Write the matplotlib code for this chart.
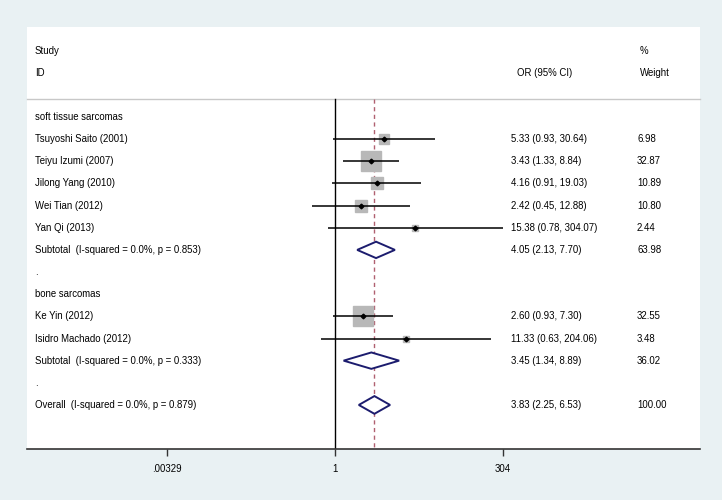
import matplotlib
matplotlib.use("Agg")
import matplotlib.pyplot as plt
import numpy as np
from matplotlib.patches import Polygon
from matplotlib.transforms import blended_transform_factory

plt.rcParams['font.family'] = ['Liberation Sans', 'DejaVu Sans']

# ---- data ----
studies_soft = ["Tsuyoshi Saito (2001)", "Teiyu Izumi (2007)", "Jilong Yang (2010)",
                "Wei Tian (2012)", "Yan Qi (2013)"]
or_soft = [5.33, 3.43, 4.16, 2.42, 15.38]
lo_soft = [0.93, 1.33, 0.91, 0.45, 0.78]
hi_soft = [30.64, 8.84, 19.03, 12.88, 304.07]
w_soft = [6.98, 32.87, 10.89, 10.80, 2.44]

studies_bone = ["Ke Yin (2012)", "Isidro Machado (2012)"]
or_bone = [2.60, 11.33]
lo_bone = [0.93, 0.63]
hi_bone = [7.30, 204.06]
w_bone = [32.55, 3.48]

sub_labels = ["Subtotal  (I-squared = 0.0%, p = 0.853)",
              "Subtotal  (I-squared = 0.0%, p = 0.333)"]
sub_or = [4.05, 3.45]
sub_lo = [2.13, 1.34]
sub_hi = [7.70, 8.89]
sub_w = [63.98, 36.02]

overall_label = "Overall  (I-squared = 0.0%, p = 0.879)"
overall_or = 3.83
overall_lo = 2.25
overall_hi = 6.53
overall_w = 100.00

group_labels = ["soft tissue sarcomas", "bone sarcomas"]
tick_vals = [0.00329, 1, 304]
tick_labels = [".00329", "1", "304"]

# ---- figure ----
W, H = 722, 500
fig = plt.figure(figsize=(W / 100, H / 100), dpi=100, facecolor="#e9f1f3")
L, R, T, B = 27, 700, 27, 449
ax = fig.add_axes([L / W, 1 - B / H, (R - L) / W, (B - T) / H])
ax.set_facecolor("white")
ax.set_xscale("log")
px_per_ln = 29.35
x0 = 335
ax.set_xlim(np.exp((L - x0) / px_per_ln), np.exp((R - x0) / px_per_ln))
row0, dy = 117, 22.15
ax.set_ylim((B - row0) / dy, (T - row0) / dy)

for s in ["top", "right", "left"]:
    ax.spines[s].set_visible(False)
ax.spines["bottom"].set_color("#333333")
ax.spines["bottom"].set_linewidth(1.2)
ax.set_yticks([])
ax.set_xticks(tick_vals)
ax.set_xticklabels(tick_labels)
ax.minorticks_off()
ax.tick_params(axis="x", length=5, width=1, color="#333333", labelsize=6.9, pad=6)

fs = 6.9
tr = blended_transform_factory(ax.transAxes, ax.transData)
def fx(px):
    return (px - L) / (R - L)

x_lab, x_or, x_w, x_orh = fx(35), fx(511), fx(637), fx(517)

# header
ax.text(x_lab, -3, "Study", transform=tr, fontsize=fs, va="center")
ax.text(x_lab, -2, "ID", transform=tr, fontsize=fs, va="center")
ax.text(x_orh, -2, "OR (95% CI)", transform=tr, fontsize=fs, va="center")
ax.text(fx(640), -3, "%", transform=tr, fontsize=fs, va="center")
ax.text(fx(640), -2, "Weight", transform=tr, fontsize=fs, va="center")
hdr_y = -0.82
ax.plot([0, 1], [hdr_y, hdr_y], transform=tr, color="#c8c8c8", lw=1.0, clip_on=False)

ymax_line = (B - row0) / dy
ax.plot([1, 1], [hdr_y, ymax_line], color="black", lw=1.0, zorder=2)
ax.plot([overall_or, overall_or], [hdr_y, ymax_line], color="#b06070", lw=1.0,
        dashes=(3, 2.5), zorder=2)

sq_ref = 14.6 / np.sqrt(32.87)

def study_row(r, name, o, lo, hi, w):
    ax.text(x_lab, r, name, transform=tr, fontsize=fs, va="center")
    ax.plot([lo, hi], [r, r], color="black", lw=1.1, zorder=4, solid_capstyle="butt")
    ax.plot([o], [r], marker="s", ms=sq_ref * np.sqrt(w), color="#b8b8b8",
            mec="#b8b8b8", zorder=3, linestyle="none")
    ax.plot([o], [r], marker="D", ms=2.4, color="black", zorder=5, linestyle="none")
    ax.text(x_or, r, f"{o:.2f} ({lo:.2f}, {hi:.2f})", transform=tr, fontsize=fs, va="center")
    ax.text(x_w, r, f"{w:.2f}", transform=tr, fontsize=fs, va="center")

def diamond_row(r, name, o, lo, hi, w, hh=0.37):
    ax.text(x_lab, r, name, transform=tr, fontsize=fs, va="center")
    poly = Polygon([[lo, r], [o, r - hh], [hi, r], [o, r + hh]], closed=True,
                   facecolor="white", edgecolor="#1c1c6e", lw=1.4, zorder=4)
    ax.add_patch(poly)
    ax.text(x_or, r, f"{o:.2f} ({lo:.2f}, {hi:.2f})", transform=tr, fontsize=fs, va="center")
    ax.text(x_w, r, f"{w:.2f}", transform=tr, fontsize=fs, va="center")

r = 0
ax.text(x_lab, r, group_labels[0], transform=tr, fontsize=fs, va="center")
for i in range(len(studies_soft)):
    r += 1
    study_row(r, studies_soft[i], or_soft[i], lo_soft[i], hi_soft[i], w_soft[i])
r += 1
diamond_row(r, sub_labels[0], sub_or[0], sub_lo[0], sub_hi[0], sub_w[0])
r += 1
ax.text(x_lab, r, ".", transform=tr, fontsize=fs, va="center")
r += 1
ax.text(x_lab, r, group_labels[1], transform=tr, fontsize=fs, va="center")
for i in range(len(studies_bone)):
    r += 1
    study_row(r, studies_bone[i], or_bone[i], lo_bone[i], hi_bone[i], w_bone[i])
r += 1
diamond_row(r, sub_labels[1], sub_or[1], sub_lo[1], sub_hi[1], sub_w[1])
r += 1
ax.text(x_lab, r, ".", transform=tr, fontsize=fs, va="center")
r += 1
diamond_row(r, overall_label, overall_or, overall_lo, overall_hi, overall_w, hh=0.4)

fig.savefig("out.png", dpi=100, facecolor=fig.get_facecolor())
